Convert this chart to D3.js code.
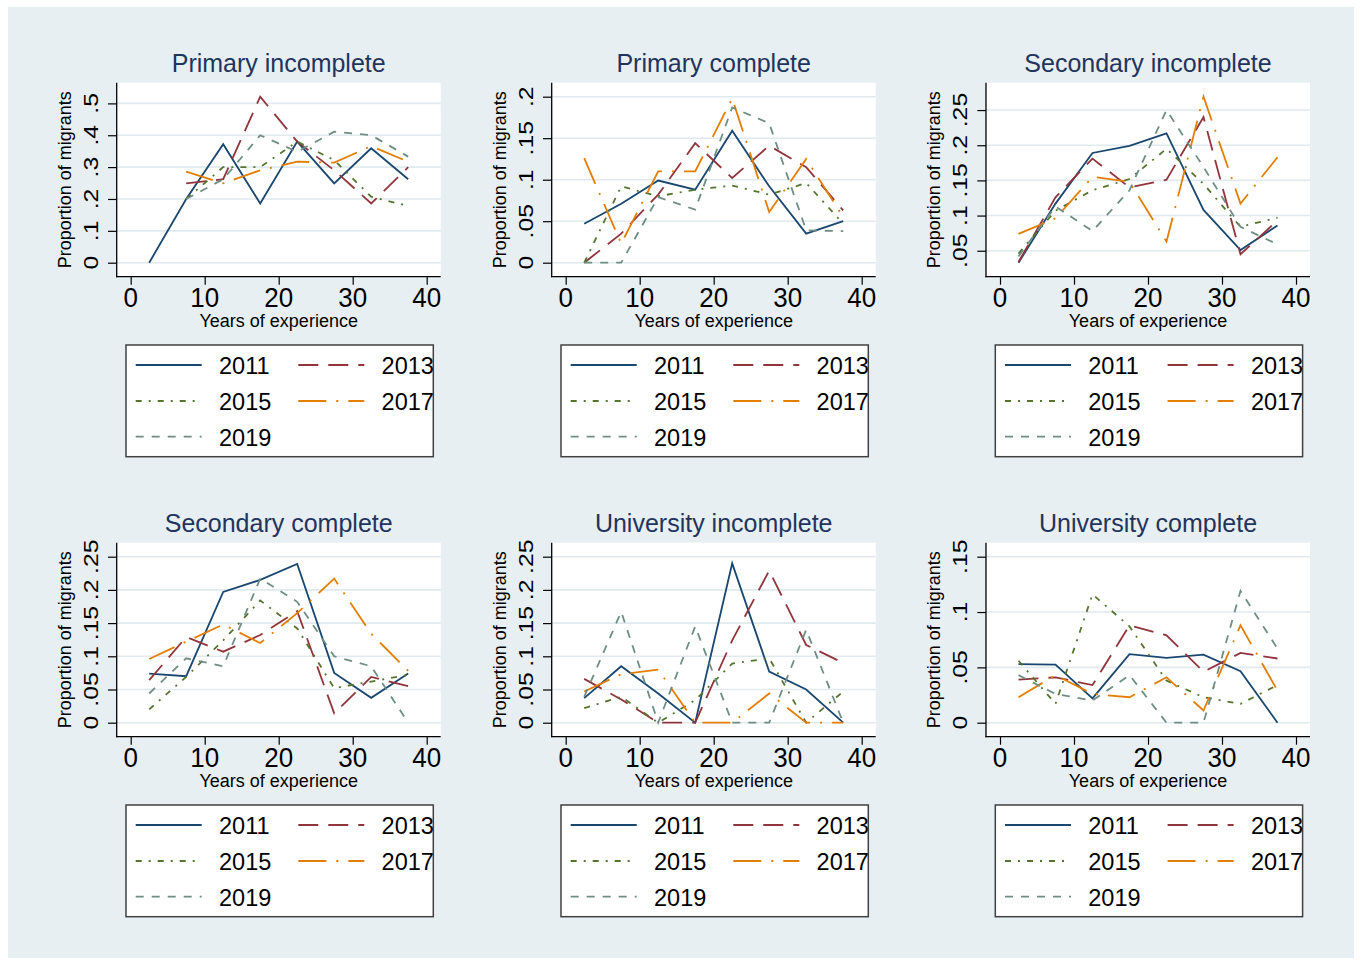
<!DOCTYPE html>
<html>
<head>
<meta charset="utf-8">
<script src="https://cdn.jsdelivr.net/npm/d3@7"></script>
<style>
  body { margin: 0; background: #fff; }
  text { font-family: "Liberation Sans", Arial, sans-serif; }
</style>
</head>
<body>
<div id="chart"></div>
<script>
// x positions (midpoints of 5-year experience bands)
var experience = [2.5, 7.5, 12.5, 17.5, 22.5, 27.5, 32.5, 37.5]
var years = ["2011", "2013", "2015", "2017", "2019"]
var panelTitles = ["Primary incomplete", "Primary complete", "Secondary incomplete",
                   "Secondary complete", "University incomplete", "University complete"]
var xTicks = [0, 10, 20, 30, 40]

// one row per year: 2011, 2013, 2015, 2017, 2019
var primaryIncomplete = [
  [0, .2, .372, .186, .38, .249, .359, .262],
  [null, .249, .262, .521, .38, .29, .186, .3],
  [null, .2, .3, .3, .38, .322, .207, .178],
  [null, .286, .249, .29, .317, .314, .366, .317],
  [null, .2, .262, .4, .348, .411, .4, .333]
]
var primaryComplete = [
  [.047, .071, .099, .088, .159, .092, .035, .05],
  [0, .035, .082, .144, .102, .141, .115, .063],
  [0, .092, .08, .088, .093, .082, .096, .047],
  [.126, .023, .11, .11, .198, .061, .125, .055],
  [0, 0, .079, .064, .187, .168, .039, .038]
]
var secondaryIncomplete = [
  [.033, .117, .189, .199, .217, .108, .051, .086],
  [.034, .126, .181, .14, .151, .24, .045, .093],
  [.046, .107, .136, .152, .195, .145, .084, .097],
  [.074, .096, .155, .148, .063, .269, .117, .183],
  [.042, .113, .078, .136, .25, .169, .084, .059]
]
var secondaryComplete = [
  [.074, .07, .197, .215, .239, .075, .0375, .074],
  [.064, .129, .107, .132, .168, .014, .069, .055],
  [.02, .069, .124, .184, .142, .052, .062, .072],
  [.096, .122, .148, .12, .165, .217, .134, .078],
  [.044, .097, .085, .217, .182, .1, .085, 0]
]
var universityIncomplete = [
  [.037, .085, .044, 0, .24, .077, .05, 0],
  [.066, .035, 0, 0, .124, .229, .117, .09],
  [.022, .039, 0, .034, .089, .097, 0, .047],
  [.047, .073, .08, 0, 0, .044, 0, 0],
  [.039, .167, 0, .145, 0, 0, .14, 0]
]
var universityComplete = [
  [.053, .0525, .022, .062, .0585, .0615, .0465, 0],
  [.039, .041, .034, .088, .079, .046, .063, .058],
  [.056, .017, .116, .087, .038, .023, .017, .034],
  [.023, .043, .026, .023, .041, .011, .088, .029],
  [.043, .026, .02, .043, 0, 0, .119, .067]
]
var yTicks = [
  [0, .1, .2, .3, .4, .5],
  [0, .05, .1, .15, .2],
  [.05, .1, .15, .2, .25],
  [0, .05, .1, .15, .2, .25],
  [0, .05, .1, .15, .2, .25],
  [0, .05, .1, .15]
]

var panels = [primaryIncomplete, primaryComplete, secondaryIncomplete,
              secondaryComplete, universityIncomplete, universityComplete]

var COLORS = ["#1a476f", "#90353b", "#55752f", "#e37e00", "#6e8e84"]
var DASHES = [null, "20,10", "6,7,2,7", "28,10,2,10", "8,8"]

var W = 1362, H = 965
var PLOT_W = 324, PLOT_H = 194, PAD = 14
var COL_X = [116.7, 551.7, 986]
var ROW_Y = [82.7, 542.7]

var svg = d3.select("#chart").append("svg")
  .attr("width", W)
  .attr("height", H)

svg.append("rect").attr("width", W).attr("height", H).attr("fill", "#fff")
svg.append("rect")
  .attr("x", 8).attr("y", 7)
  .attr("width", 1346).attr("height", 951)
  .attr("fill", "#e8eff2")

// Stata style tick labels: .5 instead of 0.5
function stataFmt(d){
  if (d == 0) return "0"
  return String(+d.toFixed(3)).replace(/^0\./, ".")
}

panels.forEach(function(series, p){
  var left = COL_X[p % 3], top = ROW_Y[Math.floor(p / 3)]
  var right = left + PLOT_W, bottom = top + PLOT_H
  var ticks = yTicks[p]

  var allVals = []
  series.forEach(function(s){ s.forEach(function(v){ if (v != null) allVals.push(v) }) })
  var yMin = Math.min(d3.min(allVals), ticks[0])
  var yMax = Math.max(d3.max(allVals), ticks[ticks.length - 1])

  var x = d3.scaleLinear().domain([0, 40]).range([left + PAD, right - PAD])
  var y = d3.scaleLinear().domain([yMin, yMax]).range([bottom - PAD, top + PAD])

  var g = svg.append("g")

  // plot region
  g.append("rect")
    .attr("x", left).attr("y", top)
    .attr("width", PLOT_W).attr("height", PLOT_H)
    .attr("fill", "#fff")

  // grid
  g.selectAll(".grid")
    .data(ticks)
    .enter()
    .append("line")
    .attr("x1", left).attr("x2", right)
    .attr("y1", function(d){ return y(d) })
    .attr("y2", function(d){ return y(d) })
    .attr("stroke", "#e1eaee")
    .attr("stroke-width", 1.6)

  // axes
  var yAxis = g.append("g")
    .attr("transform", "translate(" + left + ",0)")
    .call(d3.axisLeft(y).tickValues(ticks).tickSize(8.7).tickPadding(0).tickFormat(""))
  var xAxis = g.append("g")
    .attr("transform", "translate(0," + bottom + ")")
    .call(d3.axisBottom(x).tickValues(xTicks).tickSize(8).tickFormat(""))
  ;[yAxis, xAxis].forEach(function(a){
    a.select(".domain").remove()
    a.selectAll("line").attr("stroke", "#000").attr("stroke-width", 1.2)
  })
  g.append("line")
    .attr("x1", left).attr("x2", left).attr("y1", top).attr("y2", bottom + 0.6)
    .attr("stroke", "#000").attr("stroke-width", 1.3)
  g.append("line")
    .attr("x1", left - 0.6).attr("x2", right).attr("y1", bottom).attr("y2", bottom)
    .attr("stroke", "#000").attr("stroke-width", 1.3)

  // tick labels
  g.selectAll(".xlab")
    .data(xTicks)
    .enter()
    .append("text")
    .attr("transform", function(d){
      return "translate(" + x(d) + "," + (bottom + 30) + ") scale(1,1.08)"
    })
    .attr("text-anchor", "middle")
    .style("font-size", "26px")
    .text(function(d){ return d })

  g.selectAll(".ylab")
    .data(ticks)
    .enter()
    .append("text")
    .attr("transform", function(d){
      return "translate(" + (left - 19) + "," + y(d) + ") rotate(-90) scale(1.18,1)"
    })
    .attr("text-anchor", "middle")
    .style("font-size", "21px")
    .text(stataFmt)

  // axis titles
  g.append("text")
    .attr("x", (left + right) / 2)
    .attr("y", bottom + 50)
    .attr("text-anchor", "middle")
    .style("font-size", "18px")
    .text("Years of experience")

  g.append("text")
    .attr("transform", "translate(" + (left - 46) + "," + (top + bottom) / 2 + ") rotate(-90)")
    .attr("text-anchor", "middle")
    .style("font-size", "18px")
    .text("Proportion of migrants")

  // title
  g.append("text")
    .attr("x", (left + right) / 2)
    .attr("y", top - 11)
    .attr("text-anchor", "middle")
    .style("font-size", "25px")
    .style("fill", "#22345e")
    .text(panelTitles[p])

  // lines
  var line = d3.line()
    .defined(function(d){ return d[1] != null })
    .x(function(d){ return x(d[0]) })
    .y(function(d){ return y(d[1]) })

  series.forEach(function(s, i){
    g.append("path")
      .datum(experience.map(function(e, k){ return [e, s[k]] }))
      .attr("d", line)
      .attr("fill", "none")
      .attr("stroke", COLORS[i])
      .attr("stroke-width", 1.8)
      .attr("stroke-dasharray", DASHES[i])
  })

  // legend
  var lx = left + 9.3, ly = bottom + 68.3
  var leg = g.append("g").attr("transform", "translate(" + lx + "," + ly + ")")
  leg.append("rect")
    .attr("width", 307.3).attr("height", 111.7)
    .attr("fill", "#fff")
    .attr("stroke", "#404040")
    .attr("stroke-width", 1.5)

  var item = leg.selectAll(".item")
    .data(years)
    .enter()
    .append("g")
    .attr("transform", function(d, i){
      return "translate(" + (i % 2 ? 162.6 : 0) + "," + [20, 56, 91.7][Math.floor(i / 2)] + ")"
    })
  item.append("line")
    .attr("x1", 9.7).attr("x2", 75.7)
    .attr("stroke", function(d, i){ return COLORS[i] })
    .attr("stroke-width", 1.8)
    .attr("stroke-dasharray", function(d, i){ return DASHES[i] })
  item.append("text")
    .attr("x", 93)
    .attr("y", 9)
    .style("font-size", "23.5px")
    .text(function(d){ return d })
})
</script>
</body>
</html>
